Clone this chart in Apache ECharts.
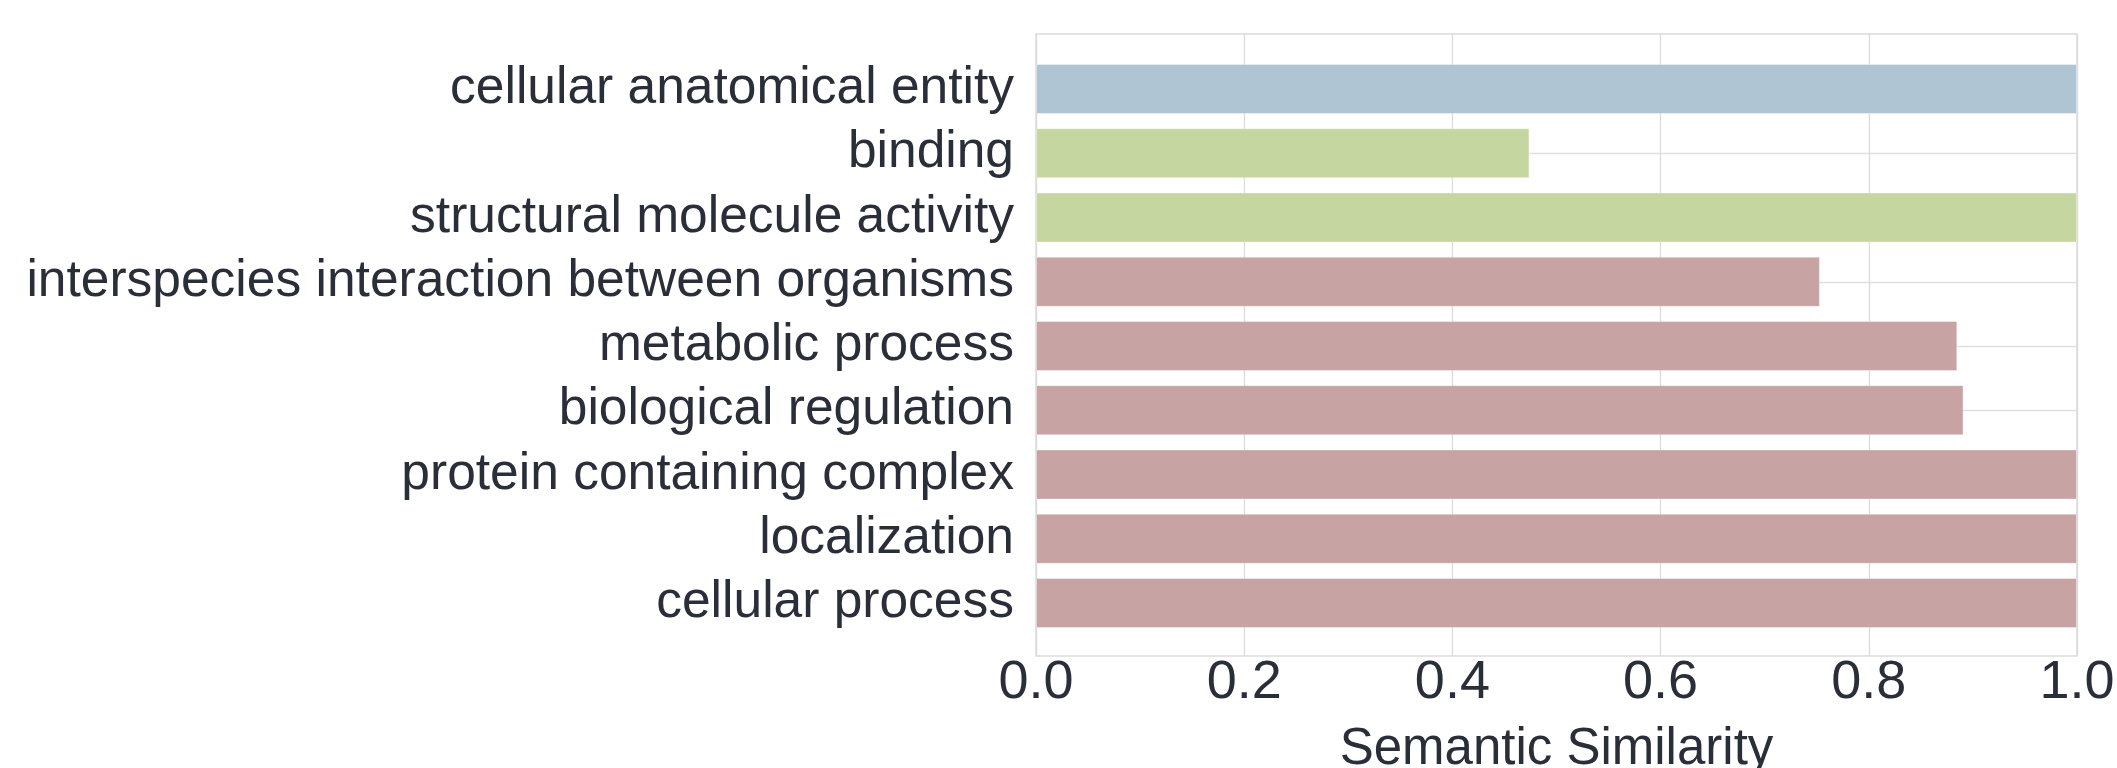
<!DOCTYPE html>
<html>
<head>
<meta charset="utf-8">
<title>Semantic Similarity</title>
<script src="https://cdn.jsdelivr.net/npm/echarts@6/dist/echarts.min.js"></script>
<style>
  html, body { margin: 0; padding: 0; background: #fff; }
  #main { width: 2117px; height: 768px; }
</style>
</head>
<body>
<div id="main"></div>
<script>
var categories = [
  'cellular anatomical entity',
  'binding',
  'structural molecule activity',
  'interspecies interaction between organisms',
  'metabolic process',
  'biological regulation',
  'protein containing complex',
  'localization',
  'cellular process'
];
var similarity = [1.0, 0.474, 1.0, 0.753, 0.885, 0.891, 1.0, 1.0, 1.0];
var ontology = ['component', 'function', 'function', 'process', 'process', 'process', 'process', 'process', 'process'];
var xTicks = [0, 0.2, 0.4, 0.6, 0.8, 1.0];

// colours per GO branch
var branchColor = {
  component: '#afc5d3',
  function: '#c5d6a0',
  process: '#c8a3a3'
};

var textColor = '#2a2e39';
var fontFamily = '"Liberation Sans", Arial, sans-serif';

var myChart = echarts.init(document.getElementById('main'), null, { renderer: 'canvas' });

var barData = [];
for (var i = 0; i < similarity.length; i++) {
  barData.push({
    value: similarity[i],
    itemStyle: { color: branchColor[ontology[i]] }
  });
}

var option = {
  backgroundColor: '#fff',
  animation: false,
  grid: [
    // frame + x axis
    { left: 1036, right: 40, top: 34, bottom: 112, outerBoundsMode: 'none', containLabel: false,
      show: true, borderColor: '#dcdcdc', borderWidth: 1.5, backgroundColor: 'transparent' },
    // bars, category centres from first to last
    { left: 1036, right: 40, top: 89, bottom: 165, outerBoundsMode: 'none', containLabel: false }
  ],
  xAxis: [
    {
      gridIndex: 0,
      type: 'value',
      min: xTicks[0],
      max: xTicks[xTicks.length - 1],
      interval: 0.2,
      axisLine: { show: false },
      axisTick: { show: false },
      splitLine: { show: true, lineStyle: { color: '#dadada', width: 1.3 } },
      axisLabel: {
        color: textColor,
        fontSize: 54,
        fontFamily: fontFamily,
        margin: 0,
        formatter: function (v) { return v.toFixed(1); }
      },
      name: 'Semantic Similarity',
      nameLocation: 'middle',
      nameGap: 68,
      nameTextStyle: { color: textColor, fontSize: 51, fontFamily: fontFamily }
    },
    {
      gridIndex: 1,
      type: 'value',
      min: 0,
      max: 1,
      show: false,
      splitLine: { show: false }
    }
  ],
  yAxis: [
    {
      gridIndex: 0,
      type: 'value',
      show: false,
      splitLine: { show: false }
    },
    {
      gridIndex: 1,
      type: 'category',
      data: categories,
      inverse: true,
      boundaryGap: false,
      axisLine: { show: false },
      axisTick: { show: false },
      splitLine: { show: true, lineStyle: { color: '#e0e0e0', width: 1.3 } },
      axisLabel: {
        color: textColor,
        fontSize: 51.5,
        fontFamily: fontFamily,
        margin: 22,
        interval: 0
      }
    }
  ],
  series: [
    {
      type: 'bar',
      xAxisIndex: 1,
      yAxisIndex: 1,
      data: barData,
      barWidth: 50,
      clip: false,
      itemStyle: { borderColor: 'rgba(255,255,255,0.35)', borderWidth: 1 }
    }
  ]
};

myChart.setOption(option);
</script>
</body>
</html>
